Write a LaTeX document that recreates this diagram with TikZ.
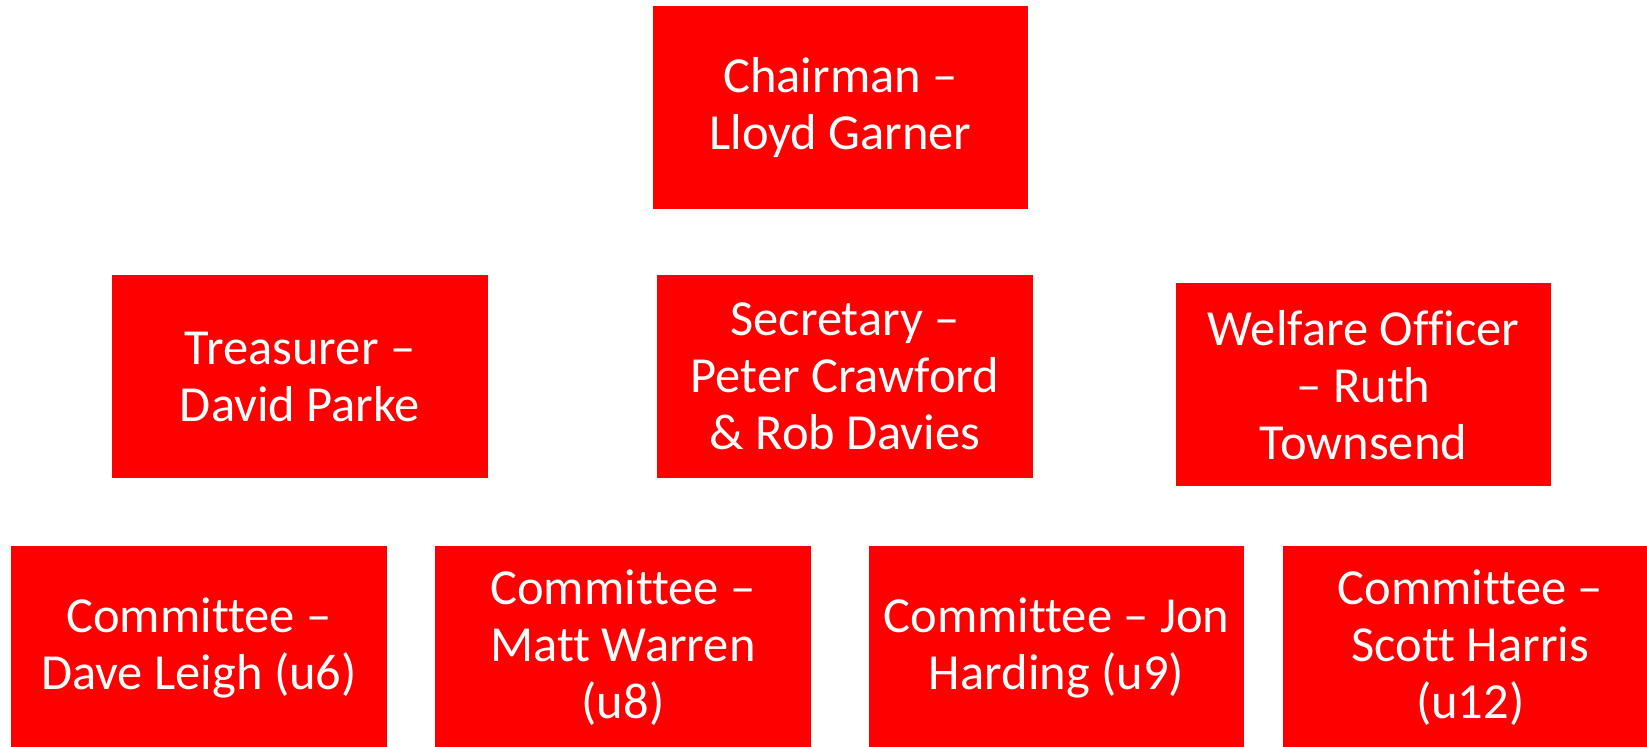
\documentclass[tikz,border=0pt]{standalone}
\usepackage{fontspec}
\setmainfont[Ligatures=NoCommon]{Carlito}
\definecolor{boxred}{RGB}{255,0,0}
\tikzset{
  orgbox/.style={fill=boxred, draw=none, text=white, minimum width=375.6pt, minimum height=203.3pt,
    inner sep=0pt, align=center, font=\fontsize{50.5}{57}\selectfont}
}
\begin{document}
\begin{tikzpicture}[x=1pt,y=-1pt]
\useasboundingbox (0,0) rectangle (1647,747);
\clip (0,0) rectangle (1647,747);
\fill[white] (0,0) rectangle (1647,747);
\node[orgbox] (chair) at (840.5,107.7) {Chairman –\\Lloyd Garner};
\node[orgbox] (treas) at (300,376.5) {Treasurer –\\David Parke};
\node[orgbox] (sec) at (845,376.5) {Secretary –\\Peter Crawford\\\& Rob Davies};
\node[orgbox] (welf) at (1363.5,384.7) {Welfare Officer\\– Ruth\\Townsend};
\node[orgbox] (c1) at (199,648) {Committee –\\Dave Leigh (u6)};
\node[orgbox] (c2) at (623,648) {Committee –\\Matt Warren\\(u8)};
\node[orgbox] (c3) at (1056.5,648) {Committee – Jon\\Harding (u9)};
\node[orgbox] (c4) at (1470.3,648) {Committee –\\Scott Harris\\(u12)};
\end{tikzpicture}
\end{document}
